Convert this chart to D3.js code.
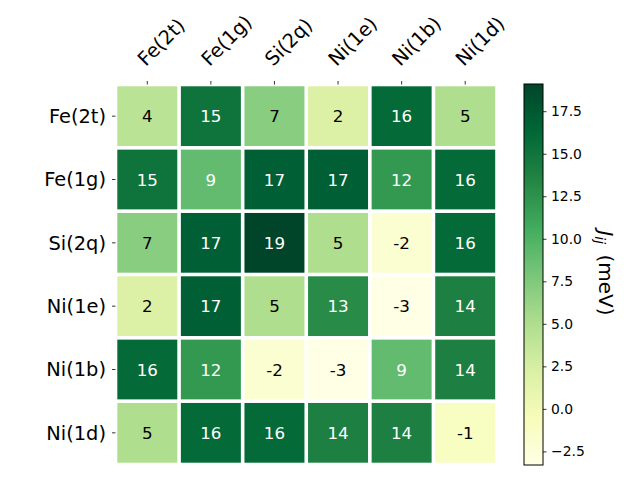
<!DOCTYPE html>
<html>
<head>
<meta charset="utf-8">
<script src="https://cdn.jsdelivr.net/npm/d3@7"></script>
<style>
  html, body { margin: 0; padding: 0; background: #fff; }
  svg { display: block; font-family: "DejaVu Sans", sans-serif; }
</style>
</head>
<body>
<svg id="chart" width="640" height="480"></svg>
<script>
// ---- data ----
const rowLabels = ["Fe(2t)", "Fe(1g)", "Si(2q)", "Ni(1e)", "Ni(1b)", "Ni(1d)"];
const colLabels = ["Fe(2t)", "Fe(1g)", "Si(2q)", "Ni(1e)", "Ni(1b)", "Ni(1d)"];
const rowFe2t = [4.2, 15.1, 7.0, 2.0, 16.0, 5.0];
const rowFe1g = [15.1, 9.0, 17.0, 17.0, 12.0, 16.0];
const rowSi2q = [7.0, 17.0, 19.1, 5.0, -2.0, 16.0];
const rowNi1e = [2.0, 17.0, 5.0, 13.0, -3.3, 14.0];
const rowNi1b = [16.0, 12.0, -2.0, -3.3, 9.0, 14.0];
const rowNi1d = [5.0, 16.0, 16.0, 14.0, 14.0, -1.0];
const matrix = [rowFe2t, rowFe1g, rowSi2q, rowNi1e, rowNi1b, rowNi1d];
const cbarTicks = [-2.5, 0.0, 2.5, 5.0, 7.5, 10.0, 12.5, 15.0, 17.5];
const ylGn = ["#ffffe5", "#f7fcb9", "#d9f0a3", "#addd8e", "#78c679", "#41ab5d", "#238443", "#006837", "#004529"];

// ---- layout ----
const svg = d3.select("#chart");
const plot = { x0: 115.5, x1: 497, y0: 84.5, y1: 464.5 };
const cbar = { x0: 524, x1: 543, y0: 84, y1: 465 };
const gap = 3.6;

const all = matrix.flat();
const vmin = d3.min(all), vmax = d3.max(all);
const color = d3.scaleLinear()
  .domain(ylGn.map((_, i) => vmin + i * (vmax - vmin) / (ylGn.length - 1)))
  .range(ylGn)
  .interpolate(d3.interpolateRgb);

const x = d3.scaleBand().domain(colLabels.map((d, i) => i)).range([plot.x0, plot.x1]);
const y = d3.scaleBand().domain(rowLabels.map((d, i) => i)).range([plot.y0, plot.y1]);

const cells = [];
matrix.forEach((row, i) => row.forEach((v, j) => cells.push({ i, j, v })));

svg.append("g").selectAll("rect").data(cells).join("rect")
  .attr("x", d => x(d.j) + gap / 2)
  .attr("y", d => y(d.i) + gap / 2)
  .attr("width", x.bandwidth() - gap)
  .attr("height", y.bandwidth() - gap)
  .attr("fill", d => color(d.v));

const mid = (vmin + vmax) / 2;
svg.append("g").selectAll("text").data(cells).join("text")
  .attr("x", d => x(d.j) + x.bandwidth() / 2)
  .attr("y", d => y(d.i) + y.bandwidth() / 2)
  .attr("dy", "0.36em")
  .attr("text-anchor", "middle")
  .attr("font-size", "16.7px")
  .attr("fill", d => d.v > mid ? "#fff" : "#000")
  .text(d => String(Math.round(d.v)));

// top x axis (ticks + rotated labels)
const xAxis = d3.axisTop(x).tickSize(3.5).tickFormat("");
const gx = svg.append("g").attr("transform", `translate(0,${plot.y0})`).call(xAxis);
gx.select(".domain").remove();
gx.selectAll(".tick line").attr("stroke", "#000").attr("stroke-width", 0.8);
svg.append("g").selectAll("text").data(colLabels).join("text")
  .attr("transform", (d, i) => `translate(${x(i) + x.bandwidth() / 2 - 1.5},${plot.y0 - 17.5}) rotate(-45)`)
  .attr("font-size", "19.4px")
  .attr("fill", "#000")
  .text(d => d);

// left y axis
const yAxis = d3.axisLeft(y).tickSize(3.5).tickPadding(6).tickFormat((d, i) => rowLabels[i]);
const gy = svg.append("g").attr("transform", `translate(${plot.x0},0)`).call(yAxis);
gy.select(".domain").remove();
gy.selectAll(".tick line").attr("stroke", "#000").attr("stroke-width", 0.8);
gy.selectAll(".tick text").attr("font-size", "19.4px").attr("font-family", "DejaVu Sans").attr("fill", "#000").attr("dy", "0.36em");

// ---- colorbar ----
const defs = svg.append("defs");
const grad = defs.append("linearGradient").attr("id", "cbgrad")
  .attr("x1", 0).attr("y1", 1).attr("x2", 0).attr("y2", 0);
ylGn.forEach((c, i) => grad.append("stop")
  .attr("offset", i / (ylGn.length - 1)).attr("stop-color", c));
svg.append("rect")
  .attr("x", cbar.x0).attr("y", cbar.y0)
  .attr("width", cbar.x1 - cbar.x0).attr("height", cbar.y1 - cbar.y0)
  .attr("fill", "url(#cbgrad)")
  .attr("stroke", "#000").attr("stroke-width", 1);

const cy = d3.scaleLinear().domain([vmin, vmax]).range([cbar.y1, cbar.y0]);
const cAxis = d3.axisRight(cy).tickValues(cbarTicks).tickSize(3.5).tickPadding(4.5).tickFormat(d3.format(".1f"));
const gc = svg.append("g").attr("transform", `translate(${cbar.x1},0)`).call(cAxis);
gc.select(".domain").remove();
gc.selectAll(".tick line").attr("stroke", "#000").attr("stroke-width", 0.8);
gc.selectAll(".tick text").attr("font-size", "13.9px").attr("font-family", "DejaVu Sans").attr("fill", "#000");

// colorbar label
const lab = svg.append("text")
  .attr("transform", `translate(599,273) rotate(90)`)
  .attr("text-anchor", "middle")
  .attr("font-size", "20px")
  .attr("fill", "#000");
lab.append("tspan").attr("font-style", "italic").text("J");
lab.append("tspan").attr("font-style", "italic").attr("font-size", "14px").attr("dy", "4").text("ij");
lab.append("tspan").attr("dy", "-4").text("\u2009 (meV)");
</script>
</body>
</html>
